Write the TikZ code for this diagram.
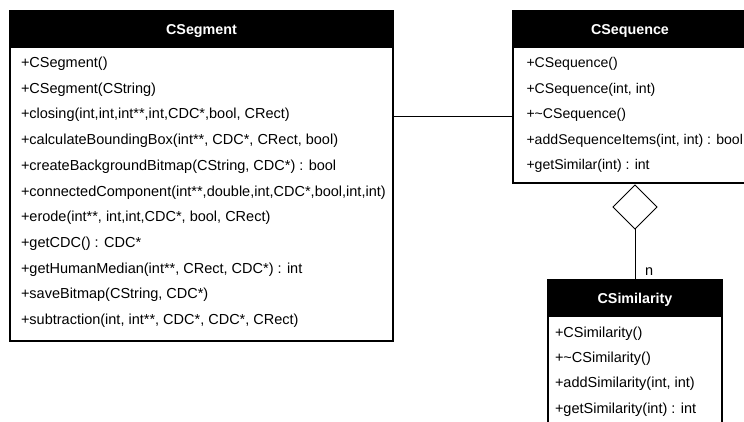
\documentclass[tikz,border=0pt]{standalone}
\usepackage{fontspec}
\setmainfont{Liberation Sans}
\usetikzlibrary{shapes.geometric}
\begin{document}
\begin{tikzpicture}[x=1pt,y=-1pt,
  every node/.style={inner sep=0pt, outer sep=0pt},
  umlbox/.style={draw, line width=1.2pt, fill=white, anchor=north west, rectangle},
  umlhead/.style={draw, line width=1.2pt, fill=black, text=white, anchor=north west,
    rectangle, font=\fontsize{14.3}{16}\bfseries, text height=10pt, text depth=0pt},
  member/.style={anchor=base west, font=\fontsize{#1}{16}\selectfont},
  member/.default=14.5,
  link/.style={line width=1pt},
  agg/.style={draw, line width=1pt, fill=white, diamond, shape aspect=1,
    minimum width=44pt, minimum height=44pt},
  mult/.style={anchor=base west, font=\fontsize{14.5}{16}\selectfont}]
\useasboundingbox (0,0) rectangle (744,421);
\clip (0,0) rectangle (744,421);

% class CSegment
\node[umlbox, minimum width=383pt, minimum height=330pt] (seg) at (10,11) {};
\node[umlhead, minimum width=383pt, minimum height=36pt] (seghead) at (10,11) {CSegment};
\foreach \t [count=\i] in {
  {+CSegment()},
  {+CSegment(CString)},
  {+closing(int,int,int**,int,CDC*,bool, CRect)},
  {+calculateBoundingBox(int**, CDC*, CRect, bool)},
  {+createBackgroundBitmap(CString, CDC*) : bool},
  {+connectedComponent(int**,double,int,CDC*,bool,int,int)},
  {+erode(int**, int,int,CDC*, bool, CRect)},
  {+getCDC() : CDC*},
  {+getHumanMedian(int**, CRect, CDC*) : int},
  {+saveBitmap(CString, CDC*)},
  {+subtraction(int, int**, CDC*, CDC*, CRect)}}
  \node[member] (seg-\i) at (21, {67.5+25.7*(\i-1)}) {\t};

% class CSequence
\node[umlbox, minimum width=234pt, minimum height=172pt] (seq) at (513,11) {};
\node[umlhead, minimum width=234pt, minimum height=36pt] (seqhead) at (513,11) {CSequence};
\foreach \t [count=\i] in {
  {+CSequence()},
  {+CSequence(int, int)},
  {+\textasciitilde CSequence()},
  {+addSequenceItems(int, int) : bool},
  {+getSimilar(int) : int}}
  \node[member=14.1] (seq-\i) at (526.5, {67.5+25.5*(\i-1)}) {\t};

% class CSimilarity
\node[umlbox, minimum width=174pt, minimum height=170pt] (sim) at (548,280) {};
\node[umlhead, minimum width=174pt, minimum height=36pt] (simhead) at (548,280) {CSimilarity};
\foreach \t [count=\i] in {
  {+CSimilarity()},
  {+\textasciitilde CSimilarity()},
  {+addSimilarity(int, int)},
  {+getSimilarity(int) : int}}
  \node[member] (sim-\i) at (555, {337.5+25.2*(\i-1)}) {\t};

% association CSegment -- CSequence
\coordinate (assoc) at (0,116);
\draw[link] (assoc -| seg.east) -- (assoc -| seq.west);

% aggregation CSequence <>-- n CSimilarity
\node[agg] (dia) at (635,207) {};
\draw[link] (dia.south) -- (dia.south |- simhead.north);
\node[mult] (nlabel) at (645,275) {n};
\end{tikzpicture}
\end{document}
